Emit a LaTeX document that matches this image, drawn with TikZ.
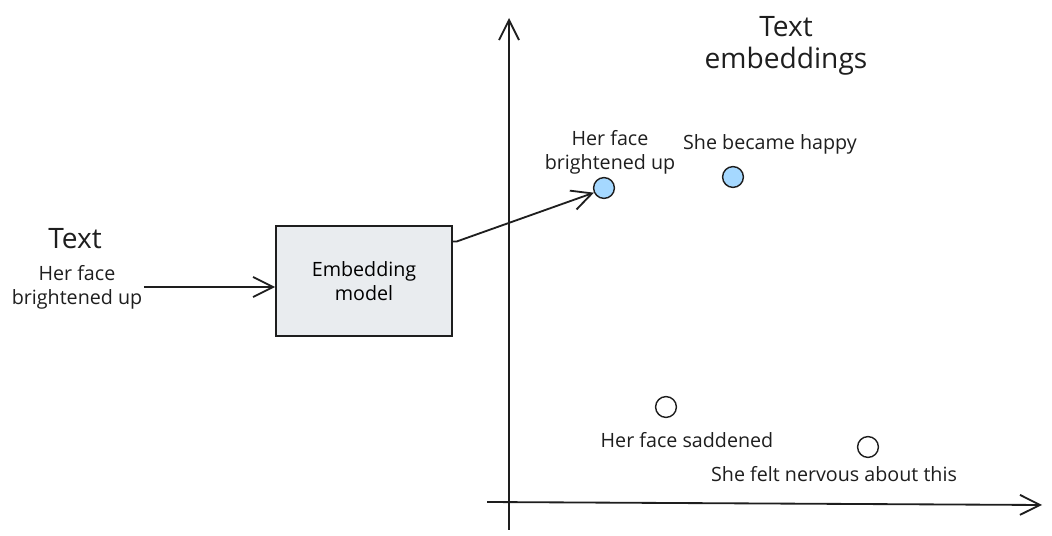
\documentclass[tikz,border=0pt]{standalone}
\usepackage{fontspec}
\setmainfont{Open Sans}
\usepackage{xcolor}
\usetikzlibrary{arrows.meta,positioning,calc}

\definecolor{ink}{HTML}{1E1E1E}
\definecolor{boxgray}{HTML}{E9ECEF}
\definecolor{ptblue}{HTML}{A5D8FF}

\begin{document}
\begin{tikzpicture}[
  x=0.025cm, y=-0.025cm,
  font=\fontsize{14}{17}\selectfont,
  lbl/.style={align=center, inner sep=1pt, text=ink},
  ttl/.style={align=center, inner sep=1pt, text=ink,
              font=\fontsize{20}{23}\selectfont},
  blk/.style={draw=ink, line width=1.2pt, fill=boxgray, align=center,
              minimum width=4.4cm, minimum height=2.75cm},
  pt/.style={draw=ink, circle, line width=1pt, minimum size=5.2mm, inner sep=0pt},
  arrow/.style={-{Straight Barb[length=5mm, width=5mm]}, line width=1.3pt, draw=ink}
]
\useasboundingbox (0,0) rectangle (1052,536);

% Input
\node[ttl] (title) at (75,239) {Text};
\node[lbl] (input) at (77,287) {Her face\\ brightened up};

% Model
\node[blk] (emb) at (364,281) {Embedding\\ model};

% Axes
\coordinate (ybot) at (509,530);
\coordinate (ytop) at (509,18);
\coordinate (xlft) at (487,502);
\coordinate (xrgt) at (1042,505);
\draw[arrow] (ybot) -- (ytop);
\draw[arrow] (xlft) -- (xrgt);
\node[ttl] (space) at (786,46) {Text\\ embeddings};

% Points
\node[pt, fill=ptblue] (p1) at (604,188) {};
\node[pt, fill=ptblue] (p2) at (733,177) {};
\node[pt] (p3) at (666,407) {};
\node[pt] (p4) at (868,447) {};

\node[lbl] (l1) at (610,152) {Her face\\ brightened up};
\node[lbl] (l2) at (770,144) {She became happy};
\node[lbl] (l3) at (687,440) {Her face saddened};
\node[lbl] (l4) at (834,474) {She felt nervous about this};

% Flow
\draw[arrow] (input.east) -- (input.east -| emb.west);
\draw[arrow] (emb.24) -- ++(4,0) -- (p1.205);
\end{tikzpicture}
\end{document}
